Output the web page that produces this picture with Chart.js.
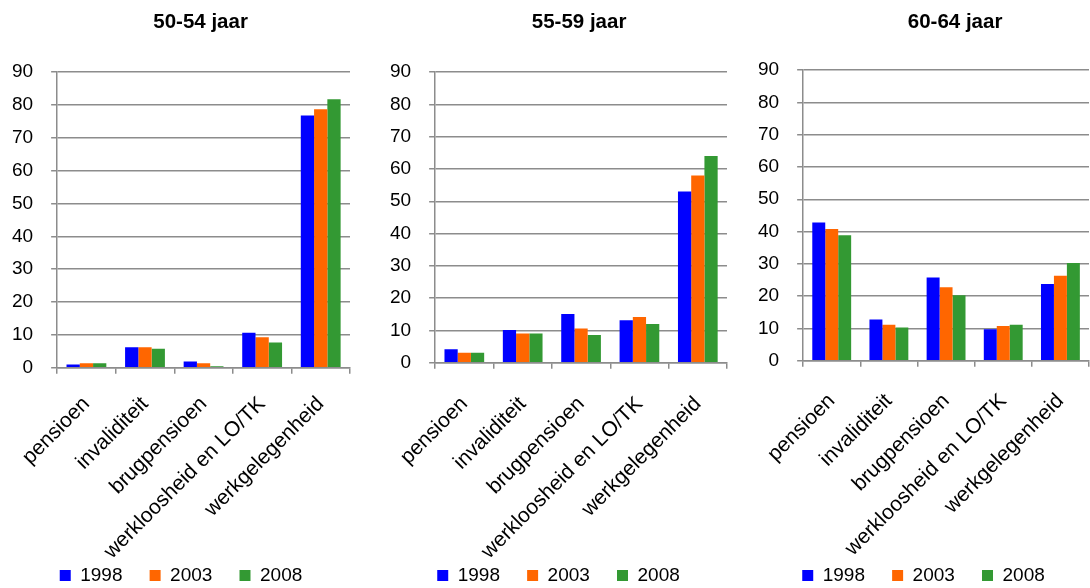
<!DOCTYPE html>
<html>
<head>
<meta charset="utf-8">
<script src="https://cdn.jsdelivr.net/npm/chart.js@4.4.1/dist/chart.umd.min.js"></script>
<style>
  html, body { margin: 0; padding: 0; background: #fff; }
  body { width: 1090px; height: 588px; position: relative; overflow: hidden; }
  .box { position: absolute; top: 0; height: 588px; }
</style>
</head>
<body>
<div class="box" style="left:0px;width:372px"><canvas id="c1"></canvas></div>
<div class="box" style="left:378px;width:362px"><canvas id="c2"></canvas></div>
<div class="box" style="left:748px;width:342px"><canvas id="c3"></canvas></div>
<script>
const categories = ['pensioen', 'invaliditeit', 'brugpensioen', 'werkloosheid en LO/TK', 'werkgelegenheid'];
const years = ['1998', '2003', '2008'];
const yTicks = [0, 10, 20, 30, 40, 50, 60, 70, 80, 90];

// 50-54 jaar
const age5054_1998 = [1.0, 6.3, 1.9, 10.7, 76.8];
const age5054_2003 = [1.4, 6.3, 1.4, 9.3, 78.7];
const age5054_2008 = [1.4, 5.8, 0.5, 7.7, 81.7];

// 55-59 jaar
const age5559_1998 = [4.2, 10.2, 15.1, 13.2, 53.0];
const age5559_2003 = [3.1, 9.1, 10.6, 14.2, 58.0];
const age5559_2008 = [3.1, 9.1, 8.6, 12.0, 64.0];

// 60-64 jaar
const age6064_1998 = [42.8, 12.8, 25.8, 9.8, 23.8];
const age6064_2003 = [40.8, 11.2, 22.8, 10.8, 26.3];
const age6064_2008 = [38.9, 10.3, 20.3, 11.2, 30.3];

const colors = ['#0000ff', '#ff6600', '#339933'];
const FONT = '"Liberation Sans", Arial, sans-serif';

Chart.defaults.font.family = FONT;
Chart.defaults.color = '#000';

// title centered over the plot area
const plotTitle = {
    id: 'plotTitle',
    afterDraw(chart, args, opts) {
        const { ctx, chartArea } = chart;
        ctx.save();
        ctx.font = 'bold 20.5px ' + FONT;
        ctx.fillStyle = '#000';
        ctx.textAlign = 'center';
        ctx.textBaseline = 'middle';
        ctx.fillText(opts.text, (chartArea.left + chartArea.right) / 2 + (opts.dx || 0), 22);
        ctx.restore();
    }
};

function makeChart(id, title, series, pad, dx, labelPad, cut) {
    const ctx = document.getElementById(id).getContext('2d');
    return new Chart(ctx, {
        type: 'bar',
        data: {
            labels: categories,
            datasets: series.map((s, i) => ({
                label: years[i],
                data: s,
                backgroundColor: colors[i],
                borderWidth: 0,
                barPercentage: 1,
                categoryPercentage: 0.68
            }))
        },
        options: {
            responsive: true,
            maintainAspectRatio: false,
            animation: false,
            layout: { padding: pad },
            plugins: {
                plotTitle: { text: title, dx: dx },
                tooltip: { enabled: false },
                legend: {
                    position: 'bottom',
                    labels: {
                        boxWidth: 11,
                        boxHeight: 11,
                        padding: 6,
                        color: '#000',
                        font: { size: 19 },
                        generateLabels: chart => {
                            const items = Chart.defaults.plugins.legend.labels.generateLabels(chart);
                            // extra room between legend entries
                            items.forEach((it, i) => { if (i < items.length - 1) it.text += '    '; });
                            return items;
                        }
                    }
                }
            },
            scales: {
                x: {
                    afterFit: scale => {
                        scale.paddingLeft = 0;
                        scale.paddingRight = 0;
                        scale.height -= cut;
                    },
                    grid: {
                        offset: true,
                        drawOnChartArea: false,
                        drawTicks: true,
                        tickLength: 6,
                        color: '#8c8c8c',
                        lineWidth: 1.5
                    },
                    border: { color: '#8c8c8c', width: 1.5 },
                    ticks: {
                        minRotation: 45,
                        maxRotation: 45,
                        autoSkip: false,
                        font: { size: 21 },
                        color: '#000',
                        padding: labelPad
                    }
                },
                y: {
                    min: yTicks[0],
                    max: yTicks[yTicks.length - 1],
                    afterBuildTicks: axis => { axis.ticks = yTicks.map(v => ({ value: v })); },
                    afterFit: scale => { scale.width -= scale.options.ticks.padding; },
                    grid: {
                        color: '#8c8c8c',
                        lineWidth: 1.5,
                        tickLength: 6
                    },
                    border: { color: '#8c8c8c', width: 1.5 },
                    ticks: {
                        font: { size: 19 },
                        color: '#000',
                        padding: 18
                    }
                }
            }
        },
        plugins: [plotTitle]
    });
}

makeChart('c1', '50-54 jaar', [age5054_1998, age5054_2003, age5054_2008], { top: 72, left: 12, right: 22, bottom: -7 }, -3, 18, 22);
makeChart('c2', '55-59 jaar', [age5559_1998, age5559_2003, age5559_2008], { top: 72, left: 12, right: 13, bottom: -7 }, -2, 23, 27);
makeChart('c3', '60-64 jaar', [age6064_1998, age6064_2003, age6064_2008], { top: 70, left: 10, right: 1, bottom: -7 }, 9, 22, 23);
</script>
</body>
</html>
